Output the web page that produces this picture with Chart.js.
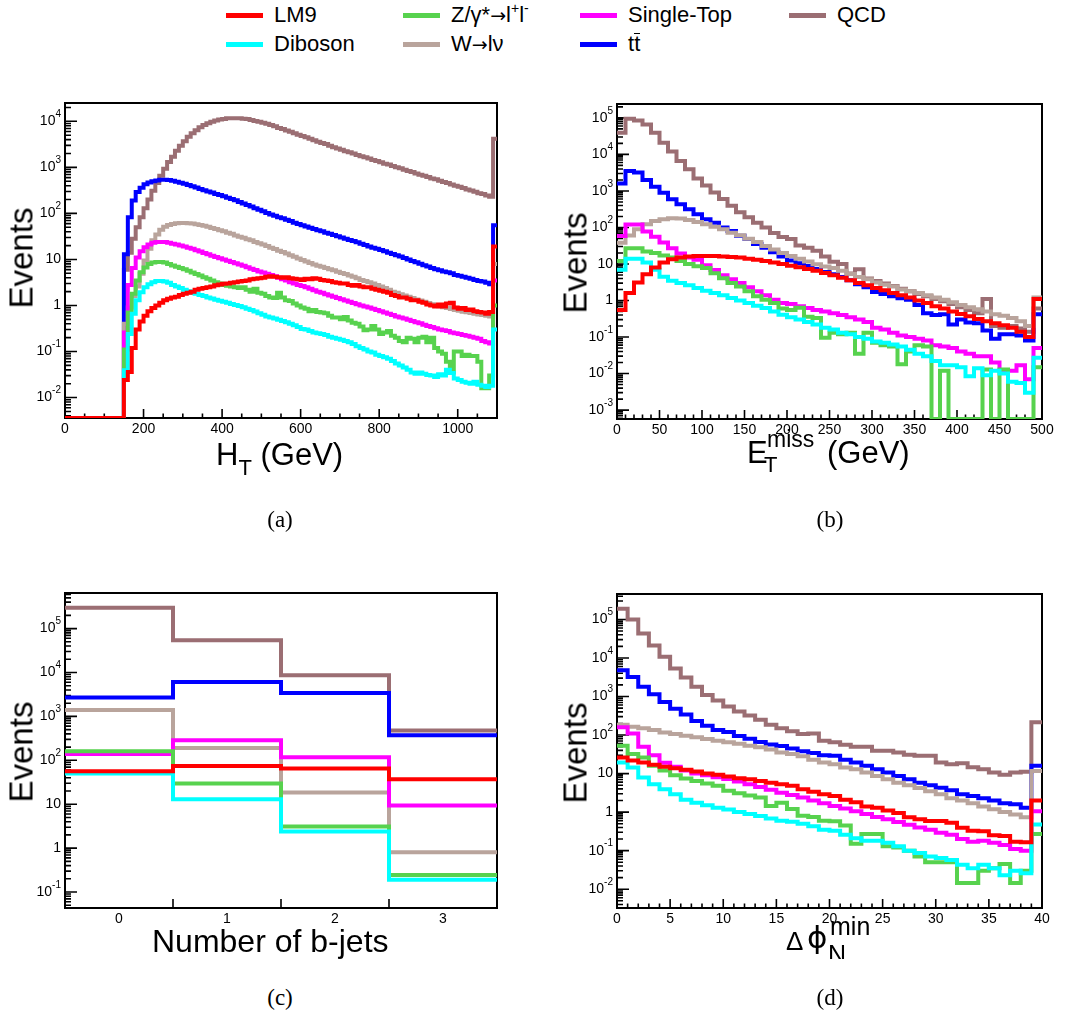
<!DOCTYPE html>
<html>
<head>
<meta charset="utf-8">
<title>Kinematic distributions</title>
<script src="https://cdn.jsdelivr.net/npm/chart.js@4.4.1/dist/chart.umd.min.js"></script>
<style>
  html, body { margin: 0; padding: 0; background: #fff; }
  body { position: relative; width: 1070px; height: 1027px; overflow: hidden;
         font-family: "Liberation Sans", Arial, Helvetica, sans-serif; color: #000; }
  canvas { position: absolute; }
  .t { position: absolute; white-space: nowrap; line-height: 1; }
  .ev { font-size: 33px; transform: translate(-50%, -50%) rotate(-90deg); }
  .lo { position: relative; font-size: 22px; top: 10px; }
  .cap { font-family: "Liberation Serif", "DejaVu Serif", serif; font-size: 23px; transform: translateX(-50%); }
  .lg { position: absolute; display: flex; align-items: center; font-size: 22px; line-height: 1;
        white-space: nowrap; transform: translateY(-50%); }
  .lg i { display: inline-block; width: 37px; height: 5px; margin-right: 11px; }
  .hi { position: relative; font-size: 14px; top: -9px; }
  .ar { font-family: "DejaVu Sans", sans-serif; font-size: 19px; }
  .gr { font-family: "DejaVu Sans", sans-serif; }
  .bar { display: inline-block; border-top: 1.5px solid #000; padding-top: 1px; line-height: 0.85; }
</style>
</head>
<body>
<div id="plots"></div>

<div class="lg" style="left:226px;top:15px"><i style="background:#ff0000"></i><span>LM9</span></div>
<div class="lg" style="left:403px;top:15px"><i style="background:#57d24e"></i><span>Z/γ*<span class="ar">→</span>l<span class="hi">+</span>l<span class="hi">-</span></span></div>
<div class="lg" style="left:580px;top:15px"><i style="background:#ff00ff"></i><span>Single-Top</span></div>
<div class="lg" style="left:789px;top:15px"><i style="background:#9b6e73"></i><span>QCD</span></div>
<div class="lg" style="left:226px;top:44px"><i style="background:#00ffff"></i><span>Diboson</span></div>
<div class="lg" style="left:403px;top:44px"><i style="background:#b9a49c"></i><span>W<span class="ar">→</span>lν</span></div>
<div class="lg" style="left:580px;top:44px"><i style="background:#0000ff"></i><span>t<span class="bar">t</span></span></div>

<div class="t ev" style="left:21px;top:258px">Events</div>
<div class="t ev" style="left:575px;top:263px">Events</div>
<div class="t ev" style="left:21px;top:752px">Events</div>
<div class="t ev" style="left:575px;top:753px">Events</div>

<div class="t" style="left:216px;top:439px;font-size:31px">H<span class="lo">T</span> (GeV)</div>

<div class="t" style="left:747px;top:437px;font-size:31px">E</div>
<div class="t" style="left:764px;top:454px;font-size:22px">T</div>
<div class="t" style="left:767px;top:428px;font-size:23px">miss</div>
<div class="t" style="left:827px;top:437px;font-size:31px">(GeV)</div>

<div class="t" style="left:152px;top:925px;font-size:32px">Number of b-jets</div>

<div style="position:absolute;left:760px;top:900px;width:140px;height:59px;overflow:hidden">
  <div class="t" style="left:26px;top:28px;font-size:26px">Δ</div>
  <div class="t gr" style="left:47px;top:22px;font-size:31px">ϕ</div>
  <div class="t" style="left:70px;top:14px;font-size:25px">min</div>
  <div class="t" style="left:68px;top:42px;font-size:25px">N</div>
</div>

<div class="t cap" style="left:280px;top:508px">(a)</div>
<div class="t cap" style="left:830px;top:508px">(b)</div>
<div class="t cap" style="left:280px;top:986px">(c)</div>
<div class="t cap" style="left:830px;top:986px">(d)</div>

<script>
// ---- H_T (GeV), 10 GeV bins from 0 to 1100, last bin holds the overflow
const htTicks = [0, 200, 400, 600, 800, 1000];
const htDecades = [-2, -1, 0, 1, 2, 3, 4];
const lm9Ht = [
  0,0,0,0,0,0,0,0,0,0,
  0,0,0,0,0,0.024,0.036,0.12,0.30,0.45,
  0.6,0.75,0.88,1.0,1.15,1.3,1.4,1.5,1.55,1.7,
  1.8,1.9,2.0,2.2,2.3,2.4,2.5,2.6,2.75,2.85,
  2.95,3.0,3.1,3.2,3.3,3.4,3.5,3.7,3.8,3.9,
  4.0,4.2,4.3,4.2,4.1,4.0,4.1,3.9,3.8,3.7,
  3.6,3.8,3.7,3.9,3.8,3.6,3.5,3.4,3.2,3.1,
  3.0,3.0,2.8,2.7,2.8,2.6,2.5,2.5,2.3,2.2,
  2.1,2.0,1.9,1.7,1.6,1.5,1.5,1.4,1.3,1.3,
  1.2,1.15,1.05,1.0,0.95,1.05,0.95,1.1,1.15,0.9,
  0.85,0.88,0.8,0.82,0.75,0.72,0.7,0.66,0.72,19];
const dibosonHt = [
  0,0,0,0,0,0,0,0,0,0,
  0,0,0,0,0,0.039,0.24,0.66,1.3,1.95,
  2.5,2.9,3.2,3.4,3.4,3.3,3.1,2.8,2.6,2.4,
  2.2,2.05,1.9,1.8,1.7,1.6,1.5,1.42,1.34,1.26,
  1.2,1.14,1.08,1.03,0.98,0.92,0.85,0.8,0.74,0.68,
  0.63,0.58,0.55,0.52,0.49,0.46,0.43,0.4,0.37,0.34,
  0.31,0.3,0.28,0.26,0.25,0.24,0.23,0.21,0.2,0.19,
  0.18,0.17,0.16,0.145,0.13,0.12,0.11,0.1,0.095,0.085,
  0.08,0.075,0.07,0.062,0.055,0.05,0.045,0.04,0.035,0.033,
  0.035,0.033,0.031,0.03,0.028,0.032,0.03,0.04,0.034,0.026,
  0.024,0.022,0.021,0.02,0.022,0.019,0.018,0.017,0.018,0.3];
const zHt = [
  0,0,0,0,0,0,0,0,0,0,
  0,0,0,0,0,0.11,0.7,1.8,3.5,5.3,
  6.7,8.0,8.6,8.8,8.8,8.6,8.0,7.4,6.9,6.5,
  6.1,5.7,5.2,4.8,4.5,4.1,3.8,3.5,3.2,3.0,
  2.8,2.7,2.6,2.5,2.4,2.5,2.2,2.0,2.3,1.9,
  1.8,1.6,1.5,1.45,1.9,1.5,1.3,1.25,1.1,1.0,
  0.9,0.85,0.75,0.8,0.72,0.7,0.68,0.6,0.55,0.55,
  0.5,0.56,0.47,0.42,0.4,0.35,0.29,0.3,0.36,0.3,
  0.24,0.26,0.28,0.22,0.2,0.17,0.16,0.2,0.19,0.16,
  0.2,0.21,0.16,0.2,0.12,0.1,0.09,0.06,0.035,0.1,
  0.1,0.08,0.085,0.08,0.08,0.06,0.016,0.016,0.03,1.0];
const stopHt = [
  0,0,0,0,0,0,0,0,0,0,
  0,0,0,0,0,0.26,2.8,6.5,11,15,
  18.5,21,23,24,24,24,23,22,21,20,
  19,18,17,15.8,14.8,13.8,12.9,12.1,11.3,10.6,
  10,9.4,8.8,8.3,7.8,7.3,6.8,6.3,5.9,5.5,
  5.2,4.9,4.6,4.3,4.0,3.7,3.5,3.2,3.0,2.8,
  2.65,2.5,2.3,2.15,2.0,1.9,1.75,1.65,1.55,1.45,
  1.37,1.28,1.2,1.13,1.06,1.0,0.95,0.9,0.85,0.8,
  0.75,0.7,0.66,0.62,0.58,0.55,0.52,0.49,0.46,0.43,
  0.41,0.38,0.36,0.34,0.32,0.3,0.29,0.28,0.26,0.25,
  0.24,0.23,0.22,0.21,0.2,0.19,0.17,0.16,0.15,3.5];
const wHt = [
  0,0,0,0,0,0,0,0,0,0,
  0,0,0,0,0,0.4,0.9,1.6,2.6,4.9,
  9.5,17,26,35,44,51,56,59,61,62,
  62,61,60,58,56,54,51,48,46,43,
  41,38,36,33,31,29.5,27.5,26,24,22.5,
  21,19.5,18,16.8,15.5,14.5,13.4,12.4,11.4,10.5,
  9.7,9.0,8.4,7.8,7.3,6.9,6.5,6.1,5.8,5.4,
  5.1,4.8,4.5,4.2,3.9,3.6,3.4,3.2,3.0,2.8,
  2.6,2.4,2.2,2.0,1.9,1.75,1.65,1.55,1.45,1.35,
  1.28,1.2,1.13,1.07,1.0,0.96,0.92,0.88,0.84,0.8,
  0.77,0.73,0.71,0.69,0.66,0.64,0.62,0.6,0.58,8];
const ttHt = [
  0,0,0,0,0,0,0,0,0,0,
  0,0,0,0,0,13,83,190,290,360,
  430,470,500,520,535,540,530,510,490,465,
  440,415,390,365,340,320,300,285,265,250,
  235,220,205,192,178,165,152,141,130,120,
  111,102,95,89,83,78,73,68,63,59,
  55,52,49,46,43,41,38,36,34,32,
  30,28,26.5,25,23.5,22,20.5,19,18,17,
  16,15,14,13.2,12.4,11.6,10.8,10,9.3,8.7,
  8.1,7.5,7.0,6.5,6.1,5.8,5.5,5.3,5.0,4.6,
  4.4,4.2,4.0,3.8,3.6,3.4,3.3,3.1,2.9,55];
const qcdHt = [
  0,0,0,0,0,0,0,0,0,0,
  0,0,0,0,0,6,14,28,50,83,
  130,200,310,460,660,930,1300,1700,2300,2950,
  3700,4600,5500,6400,7400,8300,9100,9800,10400,10900,
  11300,11600,11700,11700,11600,11400,11200,10700,10200,9800,
  9300,8900,8300,7800,7200,6800,6300,5900,5500,5100,
  4800,4500,4200,3900,3600,3400,3200,2950,2750,2570,
  2400,2240,2140,2000,1860,1740,1660,1550,1450,1380,
  1290,1200,1150,1070,1000,955,890,830,795,740,
  690,660,617,575,550,513,479,457,427,398,
  380,355,331,316,295,275,263,245,230,4200];

// ---- E_T^miss (GeV), 10 GeV bins from 0 to 500, last bin holds the overflow
const metTicks = [0, 50, 100, 150, 200, 250, 300, 350, 400, 450, 500];
const metDecades = [-3, -2, -1, 0, 1, 2, 3, 4, 5];
const lm9Met = [
  0.55,1.6,3.1,5.2,8,11,13.4,15,16,16.5,
  16.5,16.5,16,15.5,15,14,13,12,11,10,
  9,8.2,7.3,6.5,5.7,4.9,4.2,3.6,3.0,2.6,
  2.2,1.9,1.6,1.4,1.2,1.0,0.85,0.7,0.6,0.5,
  0.43,0.37,0.31,0.27,0.24,0.21,0.18,0.14,0.1,1.1];
const dibosonMet = [
  7,14,14,11,7,4.5,3.5,3.0,2.6,2.2,
  1.85,1.6,1.4,1.17,1.0,0.86,0.72,0.62,0.5,0.41,
  0.35,0.3,0.26,0.22,0.18,0.16,0.13,0.12,0.1,0.09,
  0.075,0.07,0.062,0.055,0.045,0.035,0.03,0.022,0.017,0.017,
  0.015,0.0085,0.014,0.009,0.012,0.01,0.006,0.0055,0.003,0.027];
const zMet = [
  12,27,27,22,20,17,15,12,10,8.7,
  7.8,5.6,4.1,3.0,2.4,1.8,1.3,1.05,0.85,0.6,
  0.55,0.63,0.36,0.33,0.095,0.13,0.12,0.13,0.035,0.13,
  0.07,0.06,0.055,0.018,0.04,0.06,0.055,0,0.012,0,
  0,0,0,0.013,0,0.013,0,0,0,0.015];
const stopMet = [
  58,120,120,78,56,39,27,19.5,15,13,
  9.3,6.8,4.9,3.8,3.0,2.3,1.8,1.4,1.05,0.85,
  0.8,0.7,0.62,0.55,0.5,0.45,0.4,0.35,0.3,0.26,
  0.18,0.16,0.13,0.11,0.1,0.09,0.08,0.06,0.055,0.05,
  0.04,0.035,0.03,0.03,0.02,0.012,0.012,0.017,0.007,0.05];
const wMet = [
  38,60,90,123,150,167,178,175,160,140,
  123,105,89,72,61,49,40,31,25,20,
  16.6,14,11.7,9.8,8.5,7.8,6.5,5.3,4.4,3.8,
  3.1,2.7,2.4,2.0,1.8,1.6,1.4,1.2,1.05,0.9,
  0.75,0.65,0.58,0.5,0.42,0.38,0.33,0.27,0.2,1.2];
const ttMet = [
  1600,3500,3200,2000,1300,890,590,430,315,230,
  167,135,100,80,59,48,35,28,21,16,
  12.5,10.5,8.8,7.3,6.0,5.2,4.4,3.6,2.8,2.3,
  1.7,1.5,1.3,1.15,1.05,0.75,0.45,0.4,0.42,0.22,
  0.3,0.25,0.24,0.15,0.09,0.12,0.12,0.11,0.08,0.42];
const qcdMet = [
  39000,95000,85000,66000,39000,21000,12000,6600,3900,2200,
  1400,900,600,390,260,190,135,100,70,55,
  48,32,28,23,16,11.5,10,5.5,7.2,4.0,
  3.4,2.9,2.5,2.1,1.8,1.5,1.3,1.1,0.95,0.8,
  0.65,0.55,0.45,1.1,0.2,0.18,0.2,0.17,0.14,0.6];

// ---- number of b-jets, one bin per count (last bin: 3 or more)
const nbCats = [0, 1, 2, 3];
const nbDecades = [-1, 0, 1, 2, 3, 4, 5];
const lm9Nb = [56, 74, 65, 37];
const dibosonNb = [50, 13, 2.4, 0.19];
const zNb = [160, 29.5, 3.1, 0.245];
const stopNb = [140, 285, 118, 9.3];
const wNb = [1400, 190, 18.6, 0.81];
const ttNb = [2700, 6100, 3400, 370];
const qcdNb = [300000, 54000, 8700, 480];

// ---- delta phi_N^min, unit bins from 0 to 40, last bin holds the overflow
const dphiTicks = [0, 5, 10, 15, 20, 25, 30, 35, 40];
const dphiDecades = [-2, -1, 0, 1, 2, 3, 4, 5];
const lm9Dphi = [
  26,22,19.5,17,15,13.8,12.5,11.3,10,9.3,
  8.4,7.6,7.1,6.4,5.8,5.3,4.8,3.9,3.4,2.9,
  2.6,2.1,1.8,1.4,1.3,1.1,0.95,0.74,0.65,0.59,
  0.59,0.53,0.39,0.33,0.32,0.25,0.24,0.17,0.165,2.0];
const dibosonDphi = [
  19.5,14.4,7.9,5.3,3.9,2.9,2.1,1.75,1.5,1.3,
  1.17,1.0,0.9,0.79,0.68,0.6,0.56,0.5,0.43,0.35,
  0.33,0.26,0.21,0.18,0.18,0.16,0.13,0.1,0.087,0.071,
  0.064,0.057,0.043,0.035,0.043,0.035,0.023,0.03,0.026,0.48];
const zDphi = [
  53,32,26,16,12,9,7.5,6.4,5.5,4.8,
  3.6,3.1,2.7,2.4,1.45,1.75,1.2,0.8,0.75,0.6,
  0.58,0.45,0.15,0.27,0.27,0.13,0.12,0.1,0.07,0.05,
  0.05,0.05,0.0145,0.0145,0.03,0.035,0.045,0.0145,0.03,0.27];
const stopDphi = [
  160,110,50,30,19,15,12,10,9,8,
  7.2,6.2,5.3,4.5,3.8,3.2,2.8,2.4,2.0,1.7,
  1.45,1.25,1.05,0.9,0.75,0.65,0.55,0.47,0.4,0.35,
  0.29,0.26,0.2,0.17,0.18,0.16,0.14,0.11,0.1,1.05];
const wDphi = [
  185,165,150,135,117,107,96,87,79,71,
  65,59,53,48,42,35,32,28,23,19.5,
  17.4,14.4,13,10.7,8.7,7.1,5.8,5,4.2,3.5,
  2.9,2.3,2.0,1.7,1.4,1.18,1.0,0.87,0.74,11.7];
const ttDphi = [
  4800,3200,1800,1150,720,480,340,230,175,135,
  120,95,80,66,57,52,45,38,34,30,
  29,23,19.5,16,13,10.7,8.7,7.1,5.8,5.0,
  4.3,3.7,2.9,2.6,2.3,2.0,1.7,1.6,1.3,16];
const qcdDphi = [
  190000,100000,43000,21000,10700,5300,3100,1800,1100,790,
  550,410,320,250,185,150,125,107,110,71,
  65,56,50,50,39,39,35,31,29,29,
  19.5,17.4,18.6,14.5,13,10.7,9.3,10.7,11.2,214];

// drawing order: first one ends up on top (Chart.js draws the list backwards)
const colors = ['#ff0000', '#00ffff', '#57d24e', '#ff00ff', '#b9a49c', '#0000ff', '#9b6e73'];

// ROOT style frame: box, inward ticks, 10^n labels
const rootFrame = {
  id: 'rootFrame',
  beforeDatasetsDraw(chart, args, o) {
    const { ctx, chartArea: a } = chart;
    const x = chart.scales.x, y = chart.scales.y;
    ctx.save();
    ctx.strokeStyle = '#000';
    ctx.lineWidth = 1.6;
    ctx.beginPath();
    for (let e = o.decades[0] - 1; e <= o.decades[o.decades.length - 1]; e++) {
      for (let m = 1; m < 10; m++) {
        const v = m * Math.pow(10, e);
        if (v < y.min || v > y.max) continue;
        const py = y.getPixelForValue(v);
        ctx.moveTo(a.left, py);
        ctx.lineTo(a.left + (m === 1 ? 12 : 6), py);
      }
    }
    o.majors.forEach(v => {
      const px = x.getPixelForValue(v);
      ctx.moveTo(px, a.bottom);
      ctx.lineTo(px, a.bottom - 9);
    });
    if (o.minorStep) {
      for (let i = 0; ; i++) {
        const v = x.min + i * o.minorStep;
        if (v > x.max + 1e-6) break;
        const px = x.getPixelForValue(v);
        ctx.moveTo(px, a.bottom);
        ctx.lineTo(px, a.bottom - 4.5);
      }
    }
    ctx.stroke();
    ctx.lineWidth = 2;
    ctx.strokeRect(a.left, a.top, a.right - a.left, a.bottom - a.top);
    ctx.restore();
  },
  afterDraw(chart, args, o) {
    const { ctx, chartArea: a } = chart;
    const x = chart.scales.x, y = chart.scales.y;
    const BASE = '14px "Liberation Sans", Arial, sans-serif';
    const SUP = '10px "Liberation Sans", Arial, sans-serif';
    ctx.save();
    ctx.fillStyle = '#000';
    ctx.font = BASE;
    ctx.textAlign = 'center';
    ctx.textBaseline = 'top';
    o.labels.forEach(v => ctx.fillText(String(v), x.getPixelForValue(v), a.bottom + 4));
    ctx.textAlign = 'left';
    ctx.textBaseline = 'middle';
    o.decades.forEach(e => {
      const py = y.getPixelForValue(Math.pow(10, e));
      const base = e === 0 ? '1' : '10';
      const sup = (e === 0 || e === 1) ? '' : String(e);
      ctx.font = BASE;
      const wb = ctx.measureText(base).width;
      ctx.font = SUP;
      const ws = sup ? ctx.measureText(sup).width : 0;
      const x0 = a.left - 4 - wb - ws;
      ctx.font = BASE;
      ctx.fillText(base, x0, py);
      if (sup) {
        ctx.font = SUP;
        ctx.fillText(sup, x0 + wb, py - 7);
      }
    });
    ctx.restore();
  }
};

// empty bins sit on the lower frame edge, like ROOT draws them on a log axis
function histPoints(lo, width, vals, floor) {
  const pts = vals.map((v, i) => ({ x: lo + i * width, y: v > 0 ? v : floor }));
  const last = vals[vals.length - 1];
  pts.push({ x: lo + vals.length * width, y: last > 0 ? last : floor });
  return pts;
}

function panel(p) {
  const [l, t, r, b] = p.box;
  const padL = 65, padT = 23, padR = 35, padB = 45;
  const W = r - l + padL + padR, H = b - t + padT + padB;
  const cv = document.createElement('canvas');
  cv.width = W;
  cv.height = H;
  cv.style.left = (l - padL) + 'px';
  cv.style.top = (t - padT) + 'px';
  cv.style.width = W + 'px';
  cv.style.height = H + 'px';
  document.getElementById('plots').appendChild(cv);

  new Chart(cv, {
    type: 'line',
    data: {
      datasets: p.series.map((vals, k) => ({
        data: histPoints(p.lo, p.width, vals, p.yr[0]),
        borderColor: colors[k],
        borderWidth: 4,
        stepped: true,
        fill: false,
        pointRadius: 0,
        borderJoinStyle: 'miter',
        borderCapStyle: 'butt'
      }))
    },
    options: {
      responsive: false,
      animation: false,
      devicePixelRatio: 1,
      events: [],
      layout: { padding: { left: padL, top: padT, right: padR, bottom: padB } },
      scales: {
        x: { type: 'linear', display: false, min: p.xr[0], max: p.xr[1] },
        y: { type: 'logarithmic', display: false, min: p.yr[0], max: p.yr[1] }
      },
      plugins: {
        legend: { display: false },
        tooltip: { enabled: false },
        rootFrame: { decades: p.decades, labels: p.labels, majors: p.majors, minorStep: p.minorStep }
      }
    },
    plugins: [rootFrame]
  });
}

panel({
  box: [65, 103, 497, 418], xr: [0, 1100], yr: [3.6e-3, 2.5e4], lo: 0, width: 10,
  series: [lm9Ht, dibosonHt, zHt, stopHt, wHt, ttHt, qcdHt],
  decades: htDecades, labels: htTicks, majors: htTicks, minorStep: 50
});
panel({
  box: [617, 104, 1042, 419], xr: [0, 500], yr: [5.7e-4, 2.4e5], lo: 0, width: 10,
  series: [lm9Met, dibosonMet, zMet, stopMet, wMet, ttMet, qcdMet],
  decades: metDecades, labels: metTicks, majors: metTicks, minorStep: 10
});
panel({
  box: [65, 593, 497, 908], xr: [-0.5, 3.5], yr: [0.0433, 6.46e5], lo: -0.5, width: 1,
  series: [lm9Nb, dibosonNb, zNb, stopNb, wNb, ttNb, qcdNb],
  decades: nbDecades, labels: nbCats, majors: nbCats.slice(1).map(c => c - 0.5), minorStep: 0
});
panel({
  box: [617, 594, 1042, 908], xr: [0, 40], yr: [3.25e-3, 4.57e5], lo: 0, width: 1,
  series: [lm9Dphi, dibosonDphi, zDphi, stopDphi, wDphi, ttDphi, qcdDphi],
  decades: dphiDecades, labels: dphiTicks, majors: dphiTicks, minorStep: 1
});
</script>
</body>
</html>
